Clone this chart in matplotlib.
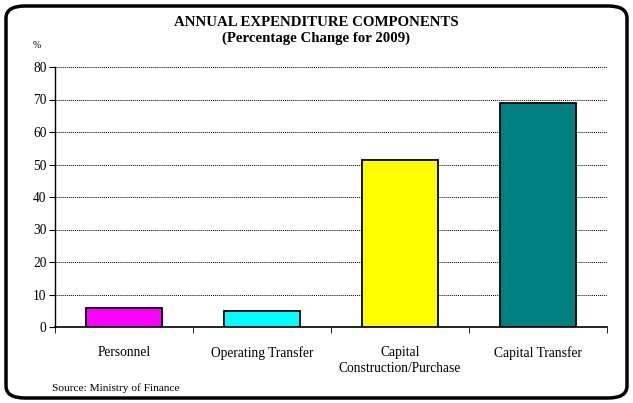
import numpy as np
import matplotlib
matplotlib.use("Agg")
import matplotlib.pyplot as plt
from matplotlib.patches import FancyBboxPatch

categories = ["Personnel", "Operating Transfer", "Capital\nConstruction/Purchase", "Capital Transfer"]
values = [5.7, 5.0, 51.4, 68.9]
colors = ["#FF00FF", "#00FFFF", "#FFFF00", "#008080"]

plt.rcParams['font.family'] = ['Liberation Serif', 'DejaVu Serif']

fig = plt.figure(figsize=(6.33, 4.03), dpi=100)
ax = fig.add_axes([55/633, 1 - 327/403, (607-55)/633, (327-67)/403])

x = np.arange(len(categories))
ax.bar(x, values, width=0.55, color=colors, edgecolor='black', linewidth=1.3, zorder=3)

ax.set_xlim(-0.5, 3.5)
ax.set_ylim(0, 80)
ax.set_yticks(np.arange(0, 81, 10))
ax.tick_params(axis='y', labelsize=9.75, length=4, direction='out', pad=2)
ax.set_xticks(x)
ax.set_xticklabels(categories, fontsize=9.75, linespacing=1.3)
ax.tick_params(axis='x', length=0, pad=14)
ax.set_xticks(np.arange(-0.5, 4.0, 1), minor=True)
ax.tick_params(axis='x', which='minor', length=4, direction='out')

for y in range(10, 81, 10):
    ax.axhline(y, color='black', linestyle=(0, (1, 1)), linewidth=0.7, zorder=1)

for s in ['top', 'right']:
    ax.spines[s].set_visible(False)
ax.spines['left'].set_linewidth(1.0)
ax.spines['bottom'].set_linewidth(1.2)

fig.text(0.5, 1 - 22/403, "ANNUAL EXPENDITURE COMPONENTS", ha='center', va='center',
         fontsize=10.7, fontweight='bold')
fig.text(0.5, 1 - 38/403, "(Percentage Change for 2009)", ha='center', va='center',
         fontsize=10.7, fontweight='bold')
fig.text(37/633, 1 - 45/403, "%", ha='center', va='center', fontsize=7)
fig.text(52/633, 1 - 388/403, "Source: Ministry of Finance", ha='left', va='center', fontsize=8.2)

border = FancyBboxPatch((6/633, 5/403), 621/633, 392/403,
                        boxstyle="round,pad=0,rounding_size=0.03",
                        transform=fig.transFigure, fill=False,
                        edgecolor='black', linewidth=2.5)
fig.patches.append(border)

fig.savefig("out.png", dpi=100)
